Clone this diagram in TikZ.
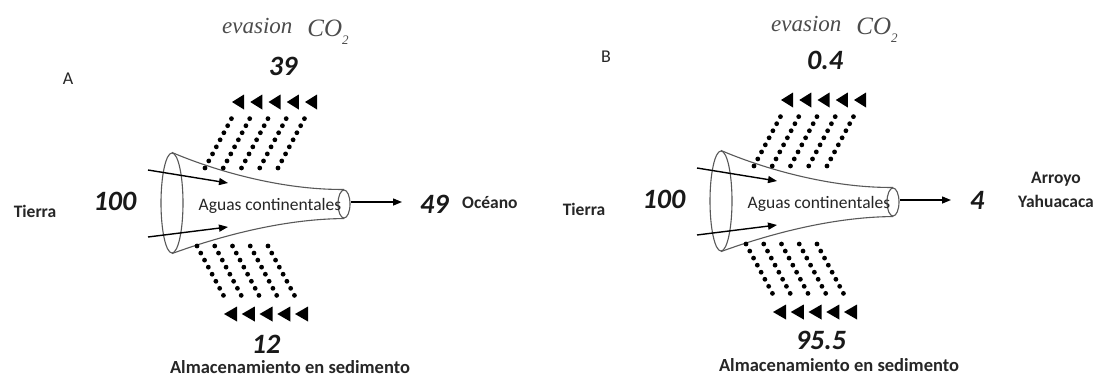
\documentclass[tikz,border=0pt]{standalone}
\usepackage{fontspec}
\usetikzlibrary{arrows.meta,shapes.geometric,calc}
\newfontfamily\calib{Carlito}
\newfontfamily\tms{Liberation Serif}

\tikzset{
  lbl/.style={font=\calib\bfseries\fontsize{17.5}{24}\selectfont, inner sep=0pt, text=black!85},
  panel/.style={font=\calib\fontsize{18}{20}\selectfont, inner sep=0pt, text=black!85},
  store/.style={font=\calib\bfseries\fontsize{18.5}{20}\selectfont, inner sep=0pt, text=black!85},
  big/.style={font=\calib\bfseries\itshape\fontsize{28}{30}\selectfont, inner sep=0pt, text=black!90},
  water/.style={font=\calib\fontsize{17.5}{18}\selectfont, inner sep=0pt, text=black!85},
  evas/.style={font=\tms\itshape\fontsize{23}{26}\selectfont, inner sep=0pt, text=black!70},
  rimline/.style={draw=black!65, line width=1.1pt},
  flow/.style={line width=1.4pt, -{Triangle[length=9pt,width=7pt]}},
  dotflow/.style={line width=4.8pt, line cap=round, dash pattern=on 0pt off 8pt},
}

% One funnel of continental waters with its inflows, outflow and dotted losses.
% #1 is the prefix for the names used inside the panel.
\newcommand\drawpanel[1]{%
  \node[lbl] (#1tierra) at (35,211) {Tierra};
  \node[big] (#1land) at (115,201) {100};
  \node[ellipse, rimline, minimum width=22pt, minimum height=100pt, inner sep=0pt] (#1rim) at (172,203) {};
  \node[ellipse, rimline, minimum width=12pt, minimum height=28pt, inner sep=0pt] (#1mouth) at (344,204) {};
  \draw[rimline] (#1rim.north) .. controls (213,170) and (280,190) .. (#1mouth.north);
  \draw[rimline] (#1rim.south) .. controls (215,238) and (280,219) .. (#1mouth.south);
  \node[water] (#1aguas) at (270,206) {Aguas continentales};
  % inflows from land
  \coordinate (#1ia) at (148,170);
  \coordinate (#1ja) at (228,183);
  \coordinate (#1ib) at (148,237);
  \coordinate (#1jb) at (228,227);
  \draw[flow] (#1ia) -- (#1ja);
  \draw[flow] (#1ib) -- (#1jb);
  % outflow
  \coordinate (#1o) at (402,202);
  \draw[flow] (#1mouth.east |- #1o) -- (#1o);
  % dotted losses: evasion upwards, storage downwards
  \foreach \k in {0,...,4}{
    \coordinate (#1us\k) at ({205+18.25*\k},168);
    \coordinate (#1ue\k) at ({235+18.25*\k},112);
    \draw[dotflow] (#1us\k) -- (#1ue\k);
    \fill ($(#1ue\k)+(-3,-10)$) -- ++(12,-7.5) -- ++(0,15) -- cycle;
    \coordinate (#1ds\k) at ({197+17.75*\k},246);
    \coordinate (#1de\k) at ({227+17.75*\k},302);
    \draw[dotflow] (#1ds\k) -- (#1de\k);
    \fill ($(#1de\k)+(-3,12)$) -- ++(13,-7.5) -- ++(0,15) -- cycle;
  }
  \node[evas, anchor=base west] (#1evas) at (222,33)
    {evasion\hspace{15pt}\raisebox{-3pt}{\fontsize{25}{26}\selectfont CO}\raisebox{-11pt}{\fontsize{13}{13}\selectfont 2}};
  \node[store] (#1store) at (290,367) {Almacenamiento en sedimento};
}

\begin{document}
\begin{tikzpicture}[x=1pt, y=-1pt]
  \useasboundingbox (0,0) rectangle (1100,376);
  \fill[white] (0,0) rectangle (1100,376);

  % panel A
  \drawpanel{a}
  \node[panel] (aname) at (68,79) {A};
  \node[big] (aco) at (283,66) {39};
  \node[big] (ased) at (266,344) {12};
  \node[big, anchor=west] (aout) at (420,204) {49};
  \node[lbl, anchor=west] (aocean) at (462,203) {Océano};

  % panel B
  \begin{scope}[shift={(549,-2)}]
    \drawpanel{b}
  \end{scope}
  \node[panel] (bname) at (606,57) {B};
  \node[big] (bco) at (825,60) {0.4};
  \node[big] (bsed) at (821,340) {95.5};
  \node[big, anchor=west] (bout) at (970,200) {4};
  \node[lbl, align=center] (bstream) at (1056,190) {Arroyo\\Yahuacaca};
\end{tikzpicture}
\end{document}
